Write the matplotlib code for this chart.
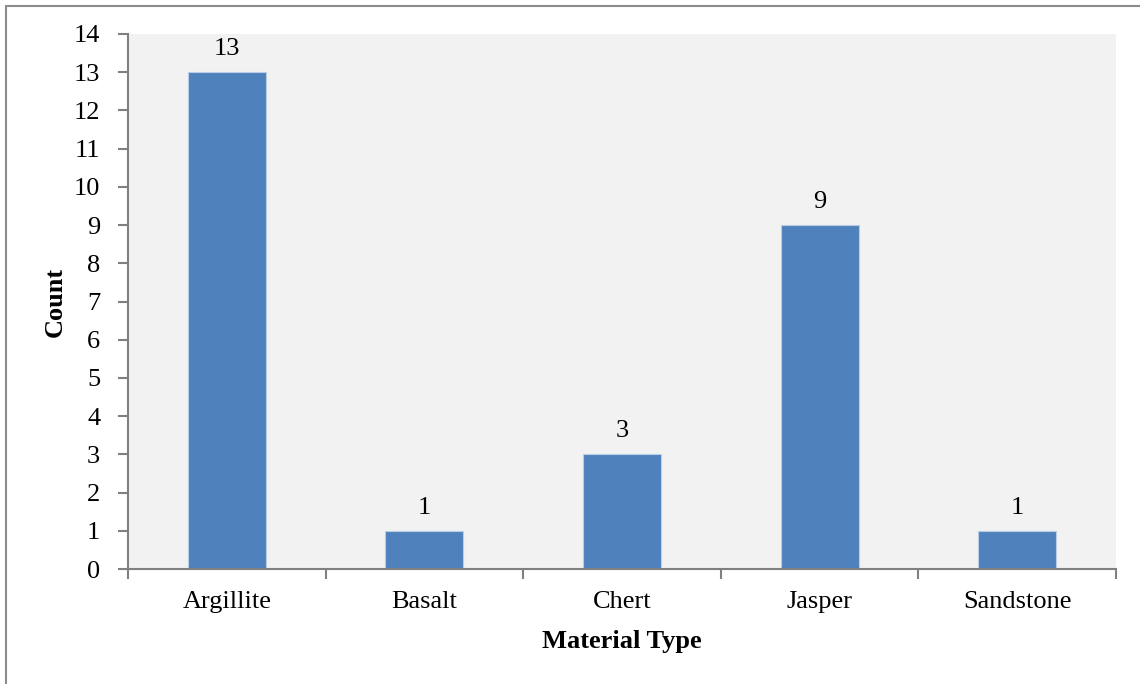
import matplotlib
matplotlib.use("Agg")
import matplotlib.pyplot as plt
from matplotlib.patches import Rectangle

categories = ["Argillite", "Basalt", "Chert", "Jasper", "Sandstone"]
counts = [13, 1, 3, 9, 1]
y_ticks = list(range(0, 15))

plt.rcParams["font.family"] = ["Liberation Serif", "DejaVu Serif"]
FS = 19

fig = plt.figure(figsize=(11.4, 6.84), dpi=100)
ax = fig.add_axes([128 / 1140, 1 - 569 / 684, (1116 - 128) / 1140, (569 - 34) / 684])

# outer frame of the chart
fig.patches.append(Rectangle((6 / 1140, -0.01), 1.02, 1 - 6 / 684 + 0.01,
                             transform=fig.transFigure, fill=False,
                             edgecolor="#8c8c8c", linewidth=1.5))

ax.set_facecolor("#F2F2F2")
x = list(range(len(categories)))
bars = ax.bar(x, counts, width=0.395, color="#4F81BD", edgecolor="#B9CDE5",
              linewidth=0.8, zorder=2)

for xi, v in zip(x, counts):
    ax.text(xi, v + 0.45, str(v), ha="center", va="baseline", fontsize=FS,
            color="black")

ax.set_xlim(-0.5, len(categories) - 0.5)
ax.set_ylim(0, 14)
ax.set_yticks(y_ticks)
ax.set_yticklabels([str(t) for t in y_ticks], fontsize=FS)

ax.set_xticks(x)
ax.set_xticklabels(categories, fontsize=FS)
ax.tick_params(axis="x", length=0, pad=16)
# boundary ticks between categories
ax.set_xticks([i - 0.5 for i in range(len(categories) + 1)], minor=True)
ax.tick_params(axis="x", which="minor", length=7, width=1.5, color="#808080")
ax.tick_params(axis="y", length=7, width=1.5, color="#808080", pad=13)

for s in ["top", "right"]:
    ax.spines[s].set_visible(False)
for s in ["left", "bottom"]:
    ax.spines[s].set_color("#808080")
    ax.spines[s].set_linewidth(1.5)

ax.set_xlabel("Material Type", fontsize=FS, fontweight="bold", labelpad=12)
ax.set_ylabel("Count", fontsize=FS, fontweight="bold", labelpad=5)

fig.savefig("out.png", dpi=100)
